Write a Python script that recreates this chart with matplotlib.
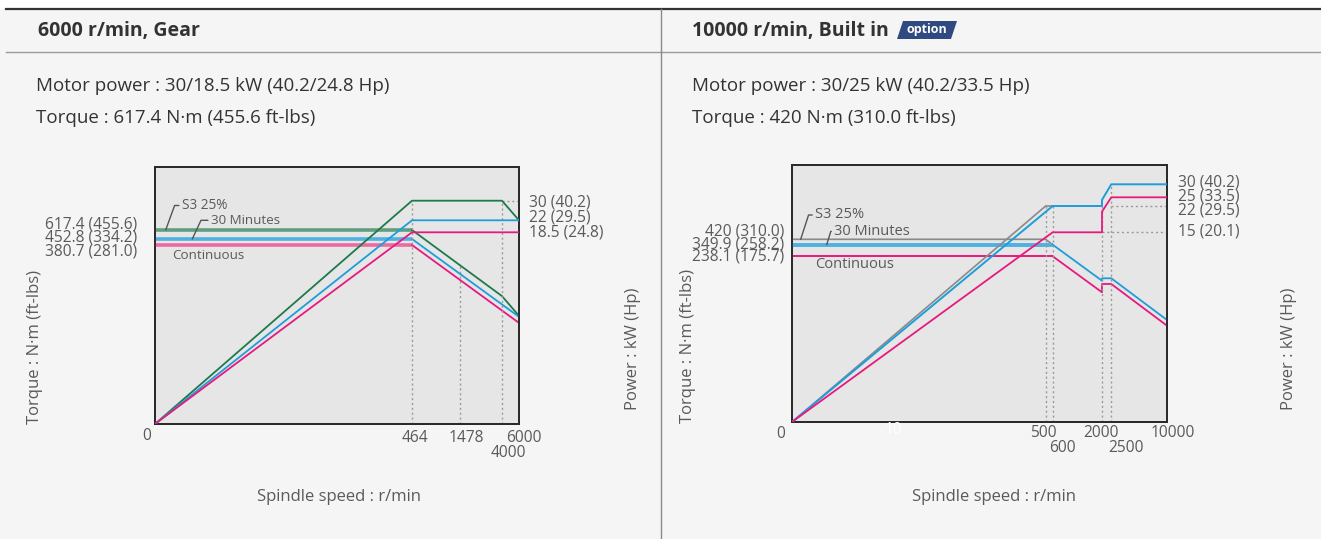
import numpy as np
import matplotlib
matplotlib.use("Agg")
import matplotlib.pyplot as plt
from matplotlib.patches import Polygon
from matplotlib.lines import Line2D

plt.rcParams['font.family'] = ['Open Sans', 'DejaVu Sans']

W, H = 1321, 539

# ---------------- data: left chart (6000 r/min, Gear) ----------------
L_title = "6000 r/min, Gear"
L_info = ["Motor power : 30/18.5 kW (40.2/24.8 Hp)", "Torque : 617.4 N·m (455.6 ft-lbs)"]
L_speed_ticks = [464, 1478, 4000, 6000]
L_speed_labels = ["464", "1478", "4000", "6000"]
L_torque_labels = ["617.4 (455.6)", "452.8 (334.2)", "380.7 (281.0)"]
L_power_labels = ["30 (40.2)", "22 (29.5)", "18.5 (24.8)"]

L_s3_speed = [0, 464, 4000, 6000]
L_s3_power = [0, 30, 30, 22]
L_s3_torque = [617.4, 617.4, 272, 230]
L_30_speed = [0, 464, 6000]
L_30_power = [0, 22, 22]
L_30_torque = [452.8, 452.8, 228]
L_c_speed = [0, 464, 6000]
L_c_power = [0, 18.5, 18.5]
L_c_torque = [380.7, 380.7, 215]

# ---------------- data: right chart (10000 r/min, Built in) ----------------
R_title = "10000 r/min, Built in"
R_info = ["Motor power : 30/25 kW (40.2/33.5 Hp)", "Torque : 420 N·m (310.0 ft-lbs)"]
R_speed_ticks = [500, 600, 2000, 2500, 10000]
R_speed_labels = ["500", "600", "2000", "2500", "10000"]
R_torque_labels = ["420 (310.0)", "349.9 (258.2)", "238.1 (175.7)"]
R_power_labels = ["30 (40.2)", "25 (33.5)", "22 (29.5)", "15 (20.1)"]

R_s3_speed = [0, 500, 600]
R_s3_power = [0, 22, 22]
R_s3_torque = [420, 420, 349.9]
R_30_speed = [0, 600, 2000, 2000, 2500, 10000]
R_30_power = [0, 22, 22, 24.1, 30, 30]
R_30_torque = [349.9, 349.9, 203, 206.5, 206.5, 146.6]
R_c_speed = [0, 600, 2000, 2000, 2500, 10000]
R_c_power = [0, 15, 15, 20.5, 25, 25]
R_c_torque = [238.1, 238.1, 186.4, 198.3, 198.3, 138.4]

# ---------------- schematic (non-proportional) scale knots ----------------
L_xk = ([0, 464, 1478, 4000, 6000], [0, 257, 305, 347, 364])
L_tk = ([0, 380.7, 452.8, 617.4, 1000], [0, 179, 185, 194, 257])
L_pk = ([0, 18.5, 22, 30, 40], [0, 191.7, 203.7, 223.3, 257])
R_xk = ([0, 500, 600, 2000, 2500, 10000], [0, 253.7, 260.7, 310, 319.3, 375])
R_tk = ([0, 238.1, 349.9, 420, 700], [0, 165.7, 177.3, 182.7, 257])
R_pk = ([0, 15, 22, 25, 30, 40], [0, 189.7, 216, 224.7, 237.7, 257])

GREEN, GREEN_L = '#1d7a4c', '#5f9e7e'
BLUE, BLUE_L = '#1e9ddb', '#4fb0e2'
PINK, PINK_L = '#e8197d', '#ec6aa2'
GRAY = '#8a8a8a'
TXT = '#5a5a5a'
DOT = dict(color='#9a9a9a', lw=1.0, ls=(0, (1.5, 2.0)))


def fr(x, y):
    return x / W, 1 - y / H


def fscale(knots):
    v, p = knots
    return (lambda a: np.interp(a, v, p), lambda a: np.interp(a, p, v))


fig = plt.figure(figsize=(W / 100, H / 100), dpi=100, facecolor='#f5f5f5')

# page decoration
fig.patches.append(plt.Rectangle((0, 1 - 8 / H), 1, 8 / H, transform=fig.transFigure,
                                 color='white', zorder=0))
fig.add_artist(Line2D([6 / W, 1], [1 - 8.5 / H] * 2, color='#333333', lw=1.6))
fig.add_artist(Line2D([6 / W, 1], [1 - 52 / H] * 2, color='#9a9a9a', lw=1.0))
fig.add_artist(Line2D([661 / W] * 2, [0, 1 - 8.5 / H], color='#8a8a8a', lw=1.0))


def txt(x, y, s, **kw):
    d = dict(color=TXT, fontsize=11, va='center', ha='left')
    d.update(kw)
    fig.text(*fr(x, y), s, **d)


def make_panel(rect, xk, tk, pk, xmax):
    l, t, r, b = rect
    ax = fig.add_axes([l / W, 1 - b / H, (r - l) / W, (b - t) / H])
    ax.set_facecolor('#e6e6e6')
    ax.set_xscale('function', functions=fscale(xk))
    ax.set_yscale('function', functions=fscale(tk))
    ax.set_xlim(0, xmax)
    ax.set_ylim(0, tk[0][-1])
    axp = ax.twinx()
    axp.set_xscale('function', functions=fscale(xk))
    axp.set_yscale('function', functions=fscale(pk))
    axp.set_xlim(0, xmax)
    axp.set_ylim(0, pk[0][-1])
    for a in (ax, axp):
        a.set_xticks([])
        a.set_yticks([])
        a.minorticks_off()
        for sp in a.spines.values():
            sp.set_color('#2a2a2a')
            sp.set_linewidth(1.3)
    return ax, axp


def torque_line(ax, s, t, light, dark, lw_flat=2.6):
    ax.plot(s[:2], t[:2], color=light, lw=lw_flat, solid_capstyle='butt', zorder=3)
    ax.plot(s[1:], t[1:], color=dark, lw=1.3, zorder=3)


INFO_FS, TITLE_FS, AX_FS, VAL_FS, TICK_FS = 13.5, 14, 12, 11.2, 11.2

# ======================= LEFT PANEL =======================
txt(38, 31, L_title, fontsize=TITLE_FS, fontweight='bold', color='#333333')
txt(36, 86, L_info[0], fontsize=INFO_FS, color='#333333')
txt(36, 118, L_info[1], fontsize=INFO_FS, color='#333333')

axL, axLp = make_panel((155, 167, 519, 424), L_xk, L_tk, L_pk, 6000)

# dotted reference lines
axLp.plot([464, 464], [0, 30], **DOT)
axL.plot([1478, 1478], [0, 337.7], **DOT)
axLp.plot([4000, 4000], [0, 30], **DOT)
axLp.plot([4000, 6000], [30, 30], **DOT)

torque_line(axL, L_s3_speed, L_s3_torque, GREEN_L, GREEN)
torque_line(axL, L_30_speed, L_30_torque, BLUE_L, BLUE)
torque_line(axL, L_c_speed, L_c_torque, PINK_L, PINK)
axLp.plot(L_s3_speed, L_s3_power, color=GREEN, lw=1.3, zorder=4)
axLp.plot(L_30_speed, L_30_power, color=BLUE, lw=1.3, zorder=4)
axLp.plot(L_c_speed, L_c_power, color=PINK, lw=1.3, zorder=4)

for i, s in enumerate(L_torque_labels):
    txt(137, 224.3 + 13.7 * i, s, ha='right', fontsize=VAL_FS)
for i, s in enumerate(L_power_labels):
    txt(529, 202.3 + 15.2 * i, s, fontsize=VAL_FS)

L_tick_off = [(3, 14), (6, 14), (6, 29), (5, 14)]
for sp, lab, (dx, dy) in zip(L_speed_ticks, L_speed_labels, L_tick_off):
    axL.annotate(lab, xy=(sp, 0), xycoords=('data', 'axes fraction'), xytext=(dx, -dy),
                 textcoords='offset pixels', ha='center', va='center', color=TXT,
                 fontsize=TICK_FS)
txt(146.5, 436, "0", ha='center', fontsize=TICK_FS)

axL.annotate("S3 25%", xy=(19.3, 617.4), xytext=(16, 24.5), textcoords='offset pixels',
             ha='left', va='center', color=TXT, fontsize=9.8,
             arrowprops=dict(arrowstyle='-', color='#555555', lw=1.0, shrinkA=0, shrinkB=0,
                             relpos=(0, 0.5), connectionstyle='angle,angleA=0,angleB=70,rad=0'))
axL.annotate("30 Minutes", xy=(67.3, 452.8), xytext=(18.4, 18.7), textcoords='offset pixels',
             ha='left', va='center', color=TXT, fontsize=9.6,
             arrowprops=dict(arrowstyle='-', color='#555555', lw=1.0, shrinkA=0, shrinkB=0,
                             relpos=(0, 0.5), connectionstyle='angle,angleA=0,angleB=65,rad=0'))
txt(172.3, 255.7, "Continuous", fontsize=9.6)

txt(339, 497, "Spindle speed : r/min", ha='center', fontsize=AX_FS)
txt(35, 347, "Torque : N·m (ft-lbs)", ha='center', rotation=90, fontsize=AX_FS)
txt(633, 349, "Power : kW (Hp)", ha='center', rotation=90, fontsize=AX_FS)

# ======================= RIGHT PANEL =======================
txt(692, 31, R_title, fontsize=TITLE_FS, fontweight='bold', color='#333333')
badge = Polygon([fr(897, 39), fr(951, 39), fr(957, 21), fr(903, 21)], closed=True,
                transform=fig.transFigure, facecolor='#2f4a80', edgecolor='none')
fig.patches.append(badge)
txt(927, 30, "option", ha='center', fontsize=9, fontweight='bold', color='white')
txt(692, 86, R_info[0], fontsize=INFO_FS, color='#333333')
txt(692, 118, R_info[1], fontsize=INFO_FS, color='#333333')

axR, axRp = make_panel((792, 165, 1167, 422), R_xk, R_tk, R_pk, 10000)

axRp.plot([500, 500], [0, 22], **DOT)
axRp.plot([600, 600], [0, 22], **DOT)
axRp.plot([2000, 2000], [0, 22], **DOT)
axRp.plot([2500, 2500], [0, 30], **DOT)
axRp.plot([2500, 10000], [22, 22], **DOT)
axRp.plot([2000, 10000], [15, 15], **DOT)

axR.plot(R_s3_speed, R_s3_torque, color=GRAY, lw=1.2, zorder=3)
torque_line(axR, R_30_speed, R_30_torque, BLUE_L, BLUE, lw_flat=2.8)
torque_line(axR, R_c_speed, R_c_torque, PINK, PINK, lw_flat=1.4)
axRp.plot(R_s3_speed, R_s3_power, color=GRAY, lw=1.2, zorder=4)
axRp.plot(R_30_speed, R_30_power, color=BLUE, lw=1.4, zorder=4)
axRp.plot(R_c_speed, R_c_power, color=PINK, lw=1.3, zorder=4)

for i, s in enumerate(R_torque_labels):
    txt(784, 231.7 + 12.5 * i, s, ha='right', fontsize=VAL_FS)
for y, s in zip([182.3, 196.7, 210.7, 232], R_power_labels):
    txt(1178, y, s, fontsize=VAL_FS)

R_tick_off = [(-2.5, 11), (10, 26), (-1, 11), (14.4, 26), (6, 11)]
for sp, lab, (dx, dy) in zip(R_speed_ticks, R_speed_labels, R_tick_off):
    axR.annotate(lab, xy=(sp, 0), xycoords=('data', 'axes fraction'), xytext=(dx, -dy),
                 textcoords='offset pixels', ha='center', va='center', color=TXT,
                 fontsize=TICK_FS)
txt(781, 434.3, "0", ha='center', fontsize=TICK_FS)
txt(893, 430, "10", ha='center', fontsize=TICK_FS, color='white')

axR.annotate("S3 25%", xy=(17.1, 420), xytext=(14.3, 24.3), textcoords='offset pixels',
             ha='left', va='center', color=TXT, fontsize=10.5,
             arrowprops=dict(arrowstyle='-', color='#555555', lw=1.0, shrinkA=0, shrinkB=0,
                             relpos=(0, 0.5), connectionstyle='angle,angleA=0,angleB=72,rad=0'))
axR.annotate("30 Minutes", xy=(68.4, 349.9), xytext=(7.3, 13.3), textcoords='offset pixels',
             ha='left', va='center', color=TXT, fontsize=10.5,
             arrowprops=dict(arrowstyle='-', color='#555555', lw=1.0, shrinkA=0, shrinkB=0,
                             relpos=(0, 0.5), connectionstyle='angle,angleA=0,angleB=73,rad=0'))
txt(815, 265, "Continuous", fontsize=10.5)

txt(994, 497, "Spindle speed : r/min", ha='center', fontsize=AX_FS)
txt(688, 346, "Torque : N·m (ft-lbs)", ha='center', rotation=90, fontsize=AX_FS)
txt(1289, 349, "Power : kW (Hp)", ha='center', rotation=90, fontsize=AX_FS)

fig.savefig("out.png", dpi=100, facecolor=fig.get_facecolor())
